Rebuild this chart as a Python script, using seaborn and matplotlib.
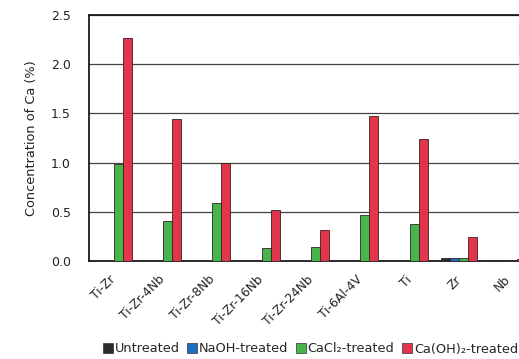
import matplotlib
matplotlib.use("Agg")
import matplotlib.pyplot as plt
import seaborn as sns
import pandas as pd
from matplotlib.patches import Patch

alloys = ["Ti-Zr", "Ti-Zr-4Nb", "Ti-Zr-8Nb", "Ti-Zr-16Nb", "Ti-Zr-24Nb",
          "Ti-6Al-4V", "Ti", "Zr", "Nb"]
treatments = ["Untreated", "NaOH-treated", "CaCl\u2082-treated", "Ca(OH)\u2082-treated"]

untreated = [0.0, 0.0, 0.0, 0.0, 0.0, 0.0, 0.0, 0.035, 0.01]
naoh = [0.0, 0.0, 0.0, 0.0, 0.0, 0.0, 0.0, 0.035, 0.01]
cacl2 = [0.99, 0.41, 0.59, 0.13, 0.145, 0.47, 0.38, 0.035, 0.01]
caoh2 = [2.27, 1.44, 1.00, 0.52, 0.32, 1.47, 1.24, 0.24, 0.02]

colors = ["#2a2a2a", "#1f6fc0", "#45b54c", "#e0354b"]

rows = []
for t, vals in zip(treatments, [untreated, naoh, cacl2, caoh2]):
    for a, v in zip(alloys, vals):
        rows.append({"alloy": a, "treatment": t, "ca": v})
df = pd.DataFrame(rows)

sns.set_style("white")
plt.rcParams["font.family"] = ["DejaVu Sans"]

W, H = 519, 359
fig = plt.figure(figsize=(W / 100, H / 100), dpi=100)
ax = fig.add_axes([89 / W, 98 / H, 444 / W, 246 / H])

sns.barplot(data=df, x="alloy", y="ca", hue="treatment", order=alloys,
            hue_order=treatments, palette=colors, saturation=1, width=0.73,
            gap=0, edgecolor="#3a2020", linewidth=0.6, ax=ax, legend=False,
            zorder=3)

ax.set_xlim(-0.5, len(alloys) - 0.5)
ax.set_ylim(0, 2.5)
ax.set_yticks([0.0, 0.5, 1.0, 1.5, 2.0, 2.5])
ax.set_yticklabels(["0.0", "0.5", "1.0", "1.5", "2.0", "2.5"])
ax.yaxis.grid(True, color="#444444", linewidth=0.9)
ax.set_axisbelow(True)

ax.set_xticks(range(len(alloys)))
ax.set_xticklabels(alloys, rotation=45, ha="right", va="center",
                   rotation_mode="anchor", fontsize=8.8, color="#222222")
ax.tick_params(axis="x", length=0, pad=12)
ax.set_xticks([i + 0.5 for i in range(len(alloys))], minor=True)
ax.tick_params(axis="x", which="minor", direction="in", length=4,
               width=1.0, color="#222222")
ax.tick_params(axis="y", length=0, pad=13, labelsize=9, labelcolor="#222222")

ax.set_xlabel("")
ax.set_ylabel("Concentration of Ca (%)", fontsize=9.3, color="#222222",
              labelpad=9)

for side in ["left", "top", "bottom"]:
    ax.spines[side].set_visible(True)
    ax.spines[side].set_color("#1a1a1a")
    ax.spines[side].set_linewidth(1.3)
ax.spines["right"].set_visible(False)

handles = [Patch(facecolor=c, edgecolor="#333333", linewidth=0.5) for c in colors]
fig.legend(handles, treatments, loc="center left",
           bbox_to_anchor=(103 / W, 1 - 349 / H), ncol=4, frameon=False,
           fontsize=9.3, handlelength=0.75, handleheight=0.75,
           handletextpad=0.15, columnspacing=0.6, borderaxespad=0,
           borderpad=0)

fig.savefig("out.png", dpi=100)
